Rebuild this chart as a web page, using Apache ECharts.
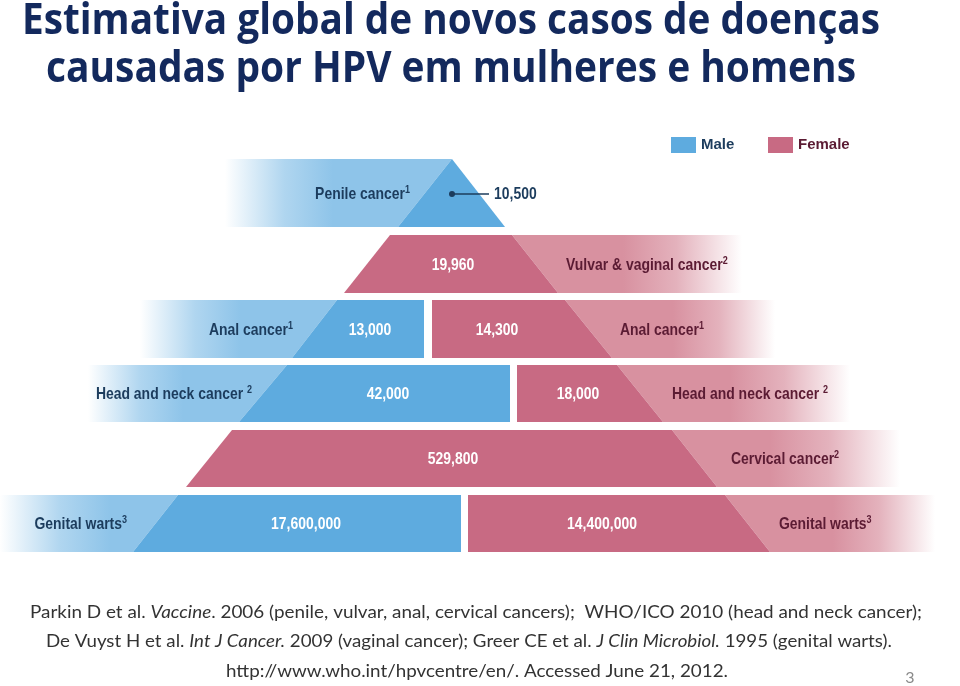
<!DOCTYPE html>
<html><head><meta charset="utf-8">
<script src="https://cdn.jsdelivr.net/npm/echarts@6/dist/echarts.min.js"></script>
<style>html,body{margin:0;padding:0;background:#fff}#c{width:960px;height:686px}</style>
</head><body><div id="c"></div>
<script>
// ---------- DATA ----------
const categories = ['Penile cancer', 'Vulvar & vaginal cancer', 'Anal cancer', 'Head and neck cancer', 'Cervical cancer', 'Genital warts'];
const maleCases   = [10500, null, 13000, 42000, null, 17600000];
const femaleCases = [null, 19960, 14300, 18000, 529800, 14400000];
const maleRefs    = [1, null, 1, 2, null, 3];
const femaleRefs  = [null, 2, 1, 2, 2, 3];
const titleLines = ['Estimativa global de novos casos de doenças', 'causadas por HPV em mulheres e homens'];

// ---------- LAYOUT (axis units = px of the 960x686 canvas) ----------
const rowTop    = [159, 235, 300, 365, 430, 495];
const rowBottom = [227, 293, 358, 422, 487, 552];
// male: [fadeStart, fadeFull, slantTop, slantBottom, rightTop, rightBottom]
const maleShape = [[225, 333, 452, 398, 452, 505], null, [140, 240, 337, 292, 424, 424], [88, 183, 287, 239, 510, 510], null, [0, 110, 178, 133, 461, 461]];
// female: [leftTop, leftBottom, slantTop, slantBottom, fadeFull, fadeEnd]
const femaleShape = [null, [390, 344, 512, 558, 623, 742], [432, 432, 565, 612, 673, 775], [517, 517, 617, 663, 730, 850], [232, 186, 672, 717, 770, 900], [468, 468, 725, 770, 833, 935]];
const maleNameRight = [410, null, 293, 252, null, 127];
const maleValueX    = [494, null, 370, 388, null, 306];
const femaleValueX  = [null, 453, 497, 578, 453, 602];
const femaleNameLeft = [null, 566, 620, 672, 731, 779];
const supGap = [0, 0, 0, 1, 0, 0];

const DARK_BLUE = '#5eabdf', LIGHT_BLUE = '#8ec4e9';
const DARK_PINK = '#c86a83', LIGHT_PINK = '#d891a0';
const NAVY = '#1c3c5d', MAROON = '#5b1b33';
const NARROW = 0.82;
const LBL_FONT = '"Liberation Sans", Arial, sans-serif';

const fmt = v => v.toLocaleString('en-US');

function richName(r, refs, color) {
  const sp = supGap[r] ? ' ' : '';
  return {
    text: '{n|' + categories[r] + sp + '}{s|' + refs[r] + '}',
    rich: {
      n: { fontSize: 17, fontWeight: 'bold', fontFamily: LBL_FONT, fill: color, lineHeight: 20 },
      s: { fontSize: 11, fontWeight: 'bold', fontFamily: LBL_FONT, fill: color, verticalAlign: 'top', lineHeight: 11 }
    }
  };
}

function textEl(p, style, align) {
  return {
    type: 'text', x: p[0], y: p[1], scaleX: NARROW,
    style: Object.assign({ x: 0, y: 0, align: align, verticalAlign: 'middle' }, style)
  };
}

function renderMale(params, api) {
  const r = api.value(0);
  const s = maleShape[r];
  const top = rowTop[r], bot = rowBottom[r], mid = (top + bot) / 2;
  const P = (x, y) => api.coord([x, y]);
  const a = P(s[0], top), b = P(s[1], top);
  const ch = [];
  ch.push({ type: 'polygon', shape: { points: [P(s[0], top), P(s[2], top), P(s[3], bot), P(s[0], bot)] },
    style: { fill: new echarts.graphic.LinearGradient(a[0], 0, b[0], 0,
      [{ offset: 0, color: 'rgba(142,196,233,0)' }, { offset: 0.55, color: 'rgba(142,196,233,0.7)' }, { offset: 1, color: LIGHT_BLUE }], true) } });
  ch.push({ type: 'polygon', shape: { points: [P(s[2], top), P(s[4], top), P(s[5], bot), P(s[3], bot)] },
    style: { fill: DARK_BLUE } });
  const nm = richName(r, maleRefs, NAVY);
  ch.push(textEl(P(maleNameRight[r], mid + 1), nm, 'right'));
  const v = fmt(api.value(1));
  if (r === 0) {
    const d = P(s[2], mid + 1), e = P(maleValueX[r] - 5, mid + 1);
    ch.push({ type: 'line', shape: { x1: d[0], y1: d[1], x2: e[0], y2: e[1] }, style: { stroke: NAVY, lineWidth: 1.5 } });
    ch.push({ type: 'circle', shape: { cx: d[0], cy: d[1], r: 3 }, style: { fill: NAVY } });
    ch.push(textEl(P(maleValueX[r], mid + 1), { text: v, fill: NAVY, font: 'bold 17px ' + LBL_FONT }, 'left'));
  } else {
    ch.push(textEl(P(maleValueX[r], mid + 1), { text: v, fill: '#ffffff', font: 'bold 17px ' + LBL_FONT }, 'center'));
  }
  return { type: 'group', children: ch };
}

function renderFemale(params, api) {
  const r = api.value(0);
  const s = femaleShape[r];
  const top = rowTop[r], bot = rowBottom[r], mid = (top + bot) / 2;
  const P = (x, y) => api.coord([x, y]);
  const a = P(s[4], top), b = P(s[5], top);
  const ch = [];
  ch.push({ type: 'polygon', shape: { points: [P(s[2], top), P(s[5], top), P(s[5], bot), P(s[3], bot)] },
    style: { fill: new echarts.graphic.LinearGradient(a[0], 0, b[0], 0,
      [{ offset: 0, color: LIGHT_PINK }, { offset: 0.45, color: 'rgba(216,145,160,0.7)' }, { offset: 1, color: 'rgba(216,145,160,0)' }], true) } });
  ch.push({ type: 'polygon', shape: { points: [P(s[0], top), P(s[2], top), P(s[3], bot), P(s[1], bot)] },
    style: { fill: DARK_PINK } });
  const nm = richName(r, femaleRefs, MAROON);
  ch.push(textEl(P(femaleNameLeft[r], mid + 1), nm, 'left'));
  ch.push(textEl(P(femaleValueX[r], mid + 1), { text: fmt(api.value(1)), fill: '#ffffff', font: 'bold 17px ' + LBL_FONT }, 'center'));
  return { type: 'group', children: ch };
}

const maleData = [], femaleData = [];
categories.forEach((c, i) => {
  if (maleCases[i] != null) maleData.push({ name: c, value: [i, maleCases[i]] });
  if (femaleCases[i] != null) femaleData.push({ name: c, value: [i, femaleCases[i]] });
});

const cv = document.createElement('canvas').getContext('2d');
function fitScale(str, font, target) { cv.font = font; return target / cv.measureText(str).width; }

const TITLE_FONT = 'bold 43px "Open Sans", Lato, sans-serif';
const titleBox = [[22, 880, 22], [46, 856, 70]];

const FOOT_FONT = 'Lato, "Open Sans", sans-serif';
const footLines = [
  [['Parkin D et al. ', 0], ['Vaccine', 1], ['. 2006 (penile, vulvar, anal, cervical cancers);  WHO/ICO 2010 (head and neck cancer);', 0]],
  [['De Vuyst H et al. ', 0], ['Int J Cancer.', 1], [' 2009 (vaginal cancer); Greer CE et al. ', 0], ['J Clin Microbiol.', 1], [' 1995 (genital warts).', 0]],
  [['http://www.who.int/hpvcentre/en/. Accessed June 21, 2012.', 0]]
];
const footBox = [[30, 925, 612], [46, 905, 641], [226, 728, 671]];

const graphics = [];
titleLines.forEach((t, i) => {
  const [l, rgt, y] = titleBox[i];
  graphics.push({ type: 'text', x: l, y: y, scaleX: fitScale(t, TITLE_FONT, rgt - l),
    style: { text: t, font: TITLE_FONT, fill: '#13295d', align: 'left', verticalAlign: 'middle' } });
});
footLines.forEach((segs, i) => {
  const [l, rgt, y] = footBox[i];
  const plain = segs.map(s => s[0]).join('');
  graphics.push({ type: 'text', x: l, y: y, scaleX: fitScale(plain, '18px ' + FOOT_FONT, rgt - l),
    style: {
      text: segs.map(s => '{' + (s[1] ? 'i' : 'r') + '|' + s[0] + '}').join(''),
      rich: {
        r: { fontSize: 18, fontFamily: FOOT_FONT, fill: '#333333' },
        i: { fontSize: 18, fontFamily: FOOT_FONT, fontStyle: 'italic', fill: '#333333' }
      },
      align: 'left', verticalAlign: 'middle'
    } });
});
graphics.push({ type: 'text', x: 910, y: 678, style: { text: '3', font: '16px ' + FOOT_FONT, fill: '#8a8a8a', align: 'center', verticalAlign: 'middle' } });

const legendText = { fontSize: 15, fontWeight: 'bold', fontFamily: '"Liberation Sans Narrow", "Liberation Sans", sans-serif' };
const chart = echarts.init(document.getElementById('c'), null, { renderer: 'canvas' });
chart.setOption({
  animation: false,
  backgroundColor: '#ffffff',
  grid: { left: 0, right: 0, top: 0, bottom: 0 },
  xAxis: { type: 'value', min: 0, max: 960, show: false },
  yAxis: { type: 'value', min: 0, max: 686, inverse: true, show: false },
  legend: [
    { left: 671, top: 137, padding: 0, itemWidth: 25, itemHeight: 16, itemGap: 5, icon: 'rect', selectedMode: false,
      data: [{ name: 'Male', textStyle: Object.assign({ color: NAVY }, legendText) }] },
    { left: 768, top: 137, padding: 0, itemWidth: 25, itemHeight: 16, itemGap: 5, icon: 'rect', selectedMode: false,
      data: [{ name: 'Female', textStyle: Object.assign({ color: MAROON }, legendText) }] }
  ],
  graphic: graphics,
  series: [
    { type: 'custom', name: 'Male', renderItem: renderMale, data: maleData, itemStyle: { color: DARK_BLUE }, encode: { x: 0, y: 1 }, clip: false, silent: true },
    { type: 'custom', name: 'Female', renderItem: renderFemale, data: femaleData, itemStyle: { color: DARK_PINK }, encode: { x: 0, y: 1 }, clip: false, silent: true }
  ]
});
</script></body></html>
